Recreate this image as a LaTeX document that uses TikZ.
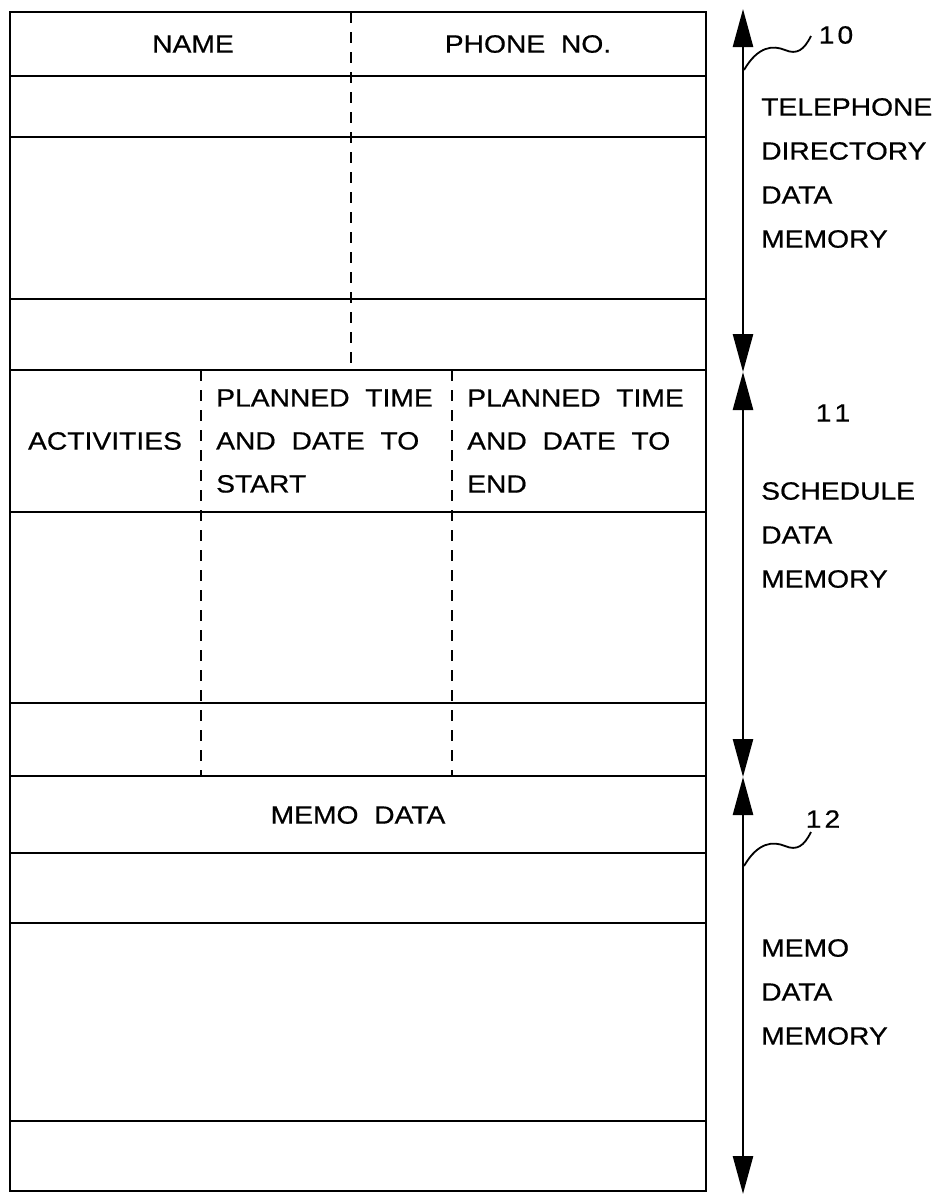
\documentclass[tikz,border=0pt]{standalone}
\usepackage{fontspec}
\setmainfont{Liberation Sans}[FakeStretch=1.13,WordSpace=2,FakeBold=0.6]
\usetikzlibrary{arrows.meta}
\begin{document}
\begin{tikzpicture}[x=1pt,y=-1pt,
  rule/.style={line width=2.8pt},
  dashline/.style={line width=2.4pt,dash pattern=on 11pt off 9pt},
  lbl/.style={inner sep=0pt,font=\fontsize{25}{43}\selectfont},
  side/.style={lbl,anchor=west,align=left,font=\fontsize{25}{44}\selectfont},
  dim/.style={line width=2.6pt,{Triangle[length=38pt,width=20pt]}-{Triangle[length=38pt,width=20pt]}},
  lead/.style={line width=1.8pt}]
\useasboundingbox (0,0) rectangle (939,1195);
% outer frame and rows
\draw[rule] (10,12) rectangle (706,1191);
\foreach \y in {76,137,299,370,512,703,776,853,923,1121}
  \draw[rule] (10,\y) -- (706,\y);
% dashed column lines
\draw[dashline] (351,12) -- (351,370);
\draw[dashline] (201,370) -- (201,776);
\draw[dashline] (452,370) -- (452,776);
% table texts
\node[lbl] (name) at (193,44) {NAME};
\node[lbl] (phone) at (528,44) {PHONE NO.};
\node[lbl] (act) at (105,441) {ACTIVITIES};
\node[lbl,anchor=west,align=left] (start) at (216,441) {PLANNED TIME\\AND DATE TO\\START};
\node[lbl,anchor=west,align=left] (end) at (467,441) {PLANNED TIME\\AND DATE TO\\END};
\node[lbl] (memo) at (358,815) {MEMO DATA};
% range arrows
\coordinate (t0) at (743,9);
\coordinate (t1) at (743,372);
\coordinate (t2) at (743,777);
\coordinate (t3) at (743,1194);
\draw[dim] (t0) -- (t1);
\draw[dim] (t1) -- (t2);
\draw[dim] (t2) -- (t3);
% reference numerals
\node[lbl] (n10) at (836,35) {1\kern3pt0};
\node[lbl] (n11) at (833,413) {1\kern3pt1};
\node[lbl] (n12) at (823,819) {1\kern3pt2};
\coordinate (l10) at (744,70);
\coordinate (l12) at (744,866);
\draw[lead] (l10) .. controls (758,46) and (773,45) .. (785,50) .. controls (797,55) and (804,50) .. (811,36);
\draw[lead] (l12) .. controls (758,842) and (773,841) .. (785,846) .. controls (797,851) and (804,846) .. (811,832);
% side labels
\node[side] (tel) at (761,173) {TELEPHONE\\DIRECTORY\\DATA\\MEMORY};
\node[side] (sch) at (761,535) {SCHEDULE\\DATA\\MEMORY};
\node[side] (mem) at (761,992) {MEMO\\DATA\\MEMORY};
\end{tikzpicture}
\end{document}
